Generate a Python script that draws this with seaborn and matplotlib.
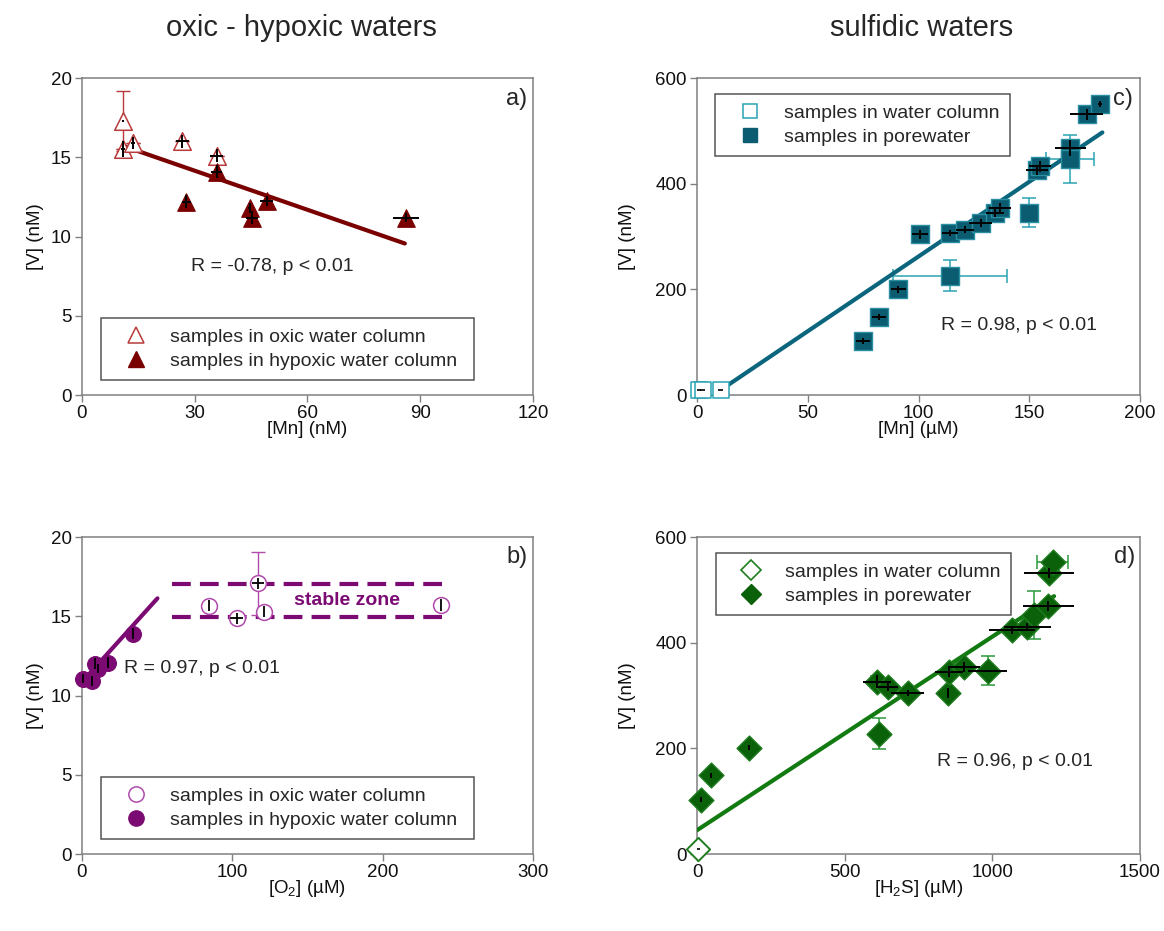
import numpy as np
import pandas as pd
import matplotlib
matplotlib.use("Agg")
import matplotlib.pyplot as plt
from matplotlib.lines import Line2D
import seaborn as sns

# ---------------- data ----------------
# panel a: [V] vs [Mn] (nM), oxic-hypoxic
a_oxic_mn = [10.9, 10.9, 13.6, 26.7, 35.8]
a_oxic_v = [17.3, 15.5, 15.9, 16.0, 15.1]
a_oxic_xerr_k = [0.3, 0.5, 0.6, 1.8, 1.8]
a_oxic_yerr_k = [0.0, 0.5, 0.4, 0.4, 0.4]
a_oxic_yerr_c = [1.9, 0.0, 0.0, 0.0, 0.0]
a_hyp_mn = [27.8, 35.8, 44.6, 45.2, 49.1, 86.2]
a_hyp_v = [12.2, 14.1, 11.8, 11.2, 12.25, 11.2]
a_hyp_xerr_k = [1.2, 1.5, 0.5, 1.6, 1.7, 3.5]
a_hyp_yerr_k = [0.4, 0.4, 0.3, 0.4, 0.3, 0.3]
a_fit_x = [11.4, 85.9]
a_fit_y = [15.68, 9.56]

# panel b: [V] vs [O2] (uM)
b_oxic_o2 = [84.3, 102.8, 117.4, 121.2, 238.9]
b_oxic_v = [15.65, 14.87, 17.08, 15.29, 15.71]
b_oxic_xerr_k = [0.0, 4.0, 4.0, 0.0, 0.0]
b_oxic_yerr_k = [0.35, 0.35, 0.35, 0.35, 0.35]
b_oxic_yerr_c = [0.0, 0.0, 2.0, 0.0, 0.0]
b_hyp_o2 = [0.9, 6.4, 8.6, 10.8, 17.5, 33.7]
b_hyp_v = [11.06, 10.9, 12.0, 11.7, 12.07, 13.9]
b_hyp_yerr_k = [0.3, 0.3, 0.35, 0.3, 0.35, 0.35]
b_fit_x = [0.0, 50.2]
b_fit_y = [10.85, 16.13]
b_stable_x = [60.0, 240.0]
b_stable_low = 14.93
b_stable_high = 17.03

# panel c: [V] vs [Mn] (uM), sulfidic
c_wc_mn = [1.0, 2.5, 10.7]
c_wc_v = [9.0, 10.0, 9.0]
c_pw_mn = [75.1, 82.2, 90.9, 100.7, 114.2, 114.2, 121.0, 128.0, 134.5, 136.8,
           150.0, 153.4, 154.8, 168.4, 168.4, 175.9, 182.0]
c_pw_v = [102, 148, 200, 304, 307, 226, 313, 326, 345, 354,
          345, 426, 433, 467, 447, 531, 551]
c_pw_xerr_k = [3.2, 3.2, 3.5, 3.7, 3.6, 0, 4, 5, 4, 5, 0, 5, 5, 7, 0, 7.3, 1]
c_pw_yerr_k = [5, 6, 6, 8, 6, 0, 6, 8, 8, 10, 0, 10, 10, 15, 0, 10, 5]
c_pw_xerr_c = [0, 0, 0, 0, 0, 25.8, 0, 0, 0, 0, 0, 0, 0, 0, 11, 0, 0]
c_pw_yerr_c = [0, 0, 0, 0, 0, 30, 0, 0, 0, 0, 27, 0, 0, 0, 45, 0, 0]
c_fit_x = [11.2, 183.0]
c_fit_y = [11.0, 497.0]

# panel d: [V] vs [H2S] (uM)
d_wc_h2s = [3.0]
d_wc_v = [10.0]
d_pw_h2s = [15, 49, 176, 615, 609, 646, 713, 849, 854, 905, 984, 1066, 1119,
            1142, 1190, 1192, 1204]
d_pw_v = [103, 149, 201, 228, 326, 317, 305, 305, 345, 354, 347, 424, 430,
          452, 469, 532, 553]
d_pw_xerr_k = [3, 3, 5, 0, 47, 36, 55, 0, 47, 53, 65, 78, 80, 0, 86, 86, 0]
d_pw_yerr_k = [5, 5, 5, 0, 12, 8, 5, 10, 10, 10, 0, 8, 8, 0, 10, 10, 0]
d_pw_xerr_c = [0, 0, 0, 0, 20, 0, 0, 0, 0, 0, 0, 0, 0, 0, 0, 0, 53]
d_pw_yerr_c = [0, 0, 0, 30, 0, 0, 0, 0, 0, 0, 27, 0, 0, 46, 0, 0, 0]
d_fit_x = [0.0, 1209.0]
d_fit_y = [45.0, 488.0]

titles = ["oxic - hypoxic waters", "sulfidic waters"]
r_texts = ["R = -0.78, p < 0.01", "R = 0.97, p < 0.01",
           "R = 0.98, p < 0.01", "R = 0.96, p < 0.01"]

# ---------------- style ----------------
sns.set_theme(style="white")
plt.rcParams["font.family"] = ["Liberation Sans", "DejaVu Sans"]
plt.rcParams["mathtext.fontset"] = "custom"
plt.rcParams["mathtext.rm"] = "Liberation Sans"
plt.rcParams["mathtext.it"] = "Liberation Sans:italic"
plt.rcParams["mathtext.default"] = "regular"

SPINE = "#808080"
FS = 13.5

fig = plt.figure(figsize=(11.64, 9.31), dpi=100)
axA = fig.add_axes([0.0704, 0.5757, 0.3875, 0.3405])
axB = fig.add_axes([0.0704, 0.0827, 0.3875, 0.3405])
axC = fig.add_axes([0.5988, 0.5757, 0.3806, 0.3405])
axD = fig.add_axes([0.5988, 0.0827, 0.3806, 0.3405])

def style_axis(ax, xlim, ylim, xticks, yticks, xlabel, ylabel, ylab_x):
    ax.set_xlim(*xlim)
    ax.set_ylim(*ylim)
    ax.set_xticks(xticks)
    ax.set_yticks(yticks)
    for s in ax.spines.values():
        s.set_color(SPINE)
        s.set_linewidth(1.1)
    ax.tick_params(axis="both", which="both", direction="out", length=5,
                   width=1, color=SPINE, labelsize=FS, labelcolor="#111111",
                   bottom=True, left=True, pad=2.5)
    ax.set_xlabel(xlabel, fontsize=FS, color="#111111")
    ax.set_ylabel(ylabel, fontsize=FS, color="#111111")
    ax.xaxis.set_label_coords(0.5, -0.108)
    ax.xaxis.label.set_va("center")
    ax.yaxis.set_label_coords(ylab_x, 0.5)
    ax.yaxis.label.set_va("center")

def errbars(ax, x, y, xerr, yerr, color, lw, cap, z):
    ax.errorbar(x, y, xerr=xerr, yerr=yerr, fmt="none", ecolor=color,
                elinewidth=lw, capsize=cap, capthick=lw, zorder=z)

def add_legend(ax, handles, labels, bbox):
    leg = ax.legend(handles, labels, loc="upper left", bbox_to_anchor=bbox,
                    mode="expand", borderaxespad=0, fontsize=14,
                    frameon=True, fancybox=False, edgecolor="#555555",
                    framealpha=1, borderpad=0.55, handlelength=2.5,
                    handletextpad=0.5, labelspacing=0.3)
    leg.get_frame().set_linewidth(1.1)

# ---------------- panel a ----------------
RED = "#7a0000"
RED_L = "#b83a3a"
style_axis(axA, (0, 120), (0, 20), [0, 30, 60, 90, 120], [0, 5, 10, 15, 20],
           "[Mn] (nM)", "[V] (nM)", -0.102)
errbars(axA, a_oxic_mn, a_oxic_v, None, a_oxic_yerr_c, RED_L, 1.0, 5, 2)
sns.lineplot(x=a_fit_x, y=a_fit_y, ax=axA, color=RED, linewidth=3,
             estimator=None, zorder=3)
sns.scatterplot(x=a_oxic_mn, y=a_oxic_v, ax=axA, marker="^", s=160,
                facecolor="white", edgecolor=RED_L, linewidth=1.1, zorder=4,
                clip_on=False)
sns.scatterplot(x=a_hyp_mn, y=a_hyp_v, ax=axA, marker="^", s=160,
                color=RED, edgecolor=RED, linewidth=0.8, zorder=4,
                clip_on=False)
errbars(axA, a_oxic_mn, a_oxic_v, a_oxic_xerr_k, a_oxic_yerr_k, "black", 1.4, 0, 5)
errbars(axA, a_hyp_mn, a_hyp_v, a_hyp_xerr_k, a_hyp_yerr_k, "black", 1.4, 0, 5)
axA.text(29.1, 8.08, r_texts[0], fontsize=14, ha="left", va="center")
axA.text(0.988, 0.934, "a)", transform=axA.transAxes, fontsize=17,
         ha="right", va="center")
add_legend(axA,
           [Line2D([], [], marker="^", ls="none", ms=12, mfc="white",
                   mec=RED_L, mew=1.1),
            Line2D([], [], marker="^", ls="none", ms=12, mfc=RED, mec=RED)],
           ["samples in oxic water column", "samples in hypoxic water column"],
           (0.042, 0.0, 0.827, 0.243))

# ---------------- panel b ----------------
PUR = "#7b0a73"
PUR_L = "#b04aac"
style_axis(axB, (0, 300), (0, 20), [0, 100, 200, 300], [0, 5, 10, 15, 20],
           r"[O$_2$] (µM)", "[V] (nM)", -0.102)
for lvl in (b_stable_low, b_stable_high):
    axB.plot(b_stable_x, [lvl, lvl], color=PUR, linestyle=(0, (4.5, 2.2)),
             linewidth=3, zorder=2)
errbars(axB, b_oxic_o2, b_oxic_v, None, b_oxic_yerr_c, PUR_L, 1.0, 5, 2)
sns.lineplot(x=b_fit_x, y=b_fit_y, ax=axB, color=PUR, linewidth=3,
             estimator=None, zorder=3)
sns.scatterplot(x=b_oxic_o2, y=b_oxic_v, ax=axB, marker="o", s=130,
                facecolor="white", edgecolor=PUR_L, linewidth=1.1, zorder=4,
                clip_on=False)
sns.scatterplot(x=b_hyp_o2, y=b_hyp_v, ax=axB, marker="o", s=130,
                color=PUR, edgecolor=PUR, linewidth=0.8, zorder=4,
                clip_on=False)
errbars(axB, b_oxic_o2, b_oxic_v, b_oxic_xerr_k, b_oxic_yerr_k, "black", 1.3, 0, 5)
errbars(axB, b_hyp_o2, b_hyp_v, None, b_hyp_yerr_k, "black", 1.3, 0, 5)
axB.text(176, 16.0, "stable zone", fontsize=14, fontweight="bold",
         color=PUR, ha="center", va="center")
axB.text(28.1, 11.7, r_texts[1], fontsize=14, ha="left", va="center")
axB.text(0.988, 0.937, "b)", transform=axB.transAxes, fontsize=17,
         ha="right", va="center")
add_legend(axB,
           [Line2D([], [], marker="o", ls="none", ms=11, mfc="white",
                   mec=PUR_L, mew=1.1),
            Line2D([], [], marker="o", ls="none", ms=11, mfc=PUR, mec=PUR)],
           ["samples in oxic water column", "samples in hypoxic water column"],
           (0.042, 0.0, 0.827, 0.243))

# ---------------- panel c ----------------
TEAL = "#0b5c70"
TEAL_E = "#2a8fa2"
TEAL_L = "#2aa3b3"
style_axis(axC, (0, 200), (0, 600), [0, 50, 100, 150, 200], [0, 200, 400, 600],
           "[Mn] (µM)", "[V] (nM)", -0.156)
errbars(axC, c_pw_mn, c_pw_v, c_pw_xerr_c, c_pw_yerr_c, TEAL_L, 1.1, 5, 2)
sns.lineplot(x=c_fit_x, y=c_fit_y, ax=axC, color="#0b657c", linewidth=3,
             estimator=None, zorder=3)
sns.scatterplot(x=c_wc_mn, y=c_wc_v, ax=axC, marker="s", s=120,
                facecolor="white", edgecolor=TEAL_L, linewidth=1.1, zorder=4,
                clip_on=False)
sns.scatterplot(x=c_pw_mn, y=c_pw_v, ax=axC, marker="s", s=160,
                color=TEAL, edgecolor=TEAL_E, linewidth=1.0, zorder=4,
                clip_on=False)
errbars(axC, c_wc_mn, c_wc_v, [1, 1, 1], None, "black", 1.2, 0, 5)
errbars(axC, c_pw_mn, c_pw_v, c_pw_xerr_k, c_pw_yerr_k, "black", 1.4, 0, 5)
axC.text(110, 132, r_texts[2], fontsize=14, ha="left", va="center")
axC.text(0.984, 0.934, "c)", transform=axC.transAxes, fontsize=17,
         ha="right", va="center")
add_legend(axC,
           [Line2D([], [], marker="s", ls="none", ms=10, mfc="white",
                   mec=TEAL_L, mew=1.1),
            Line2D([], [], marker="s", ls="none", ms=10, mfc=TEAL, mec=TEAL)],
           ["samples in water column", "samples in porewater"],
           (0.041, 0.0, 0.666, 0.95))

# ---------------- panel d ----------------
GRN = "#0a610a"
GRN_E = "#1f7d1f"
GRN_L = "#2a9a3a"
style_axis(axD, (0, 1500), (0, 600), [0, 500, 1000, 1500], [0, 200, 400, 600],
           r"[H$_2$S] (µM)", "[V] (nM)", -0.156)
errbars(axD, d_pw_h2s, d_pw_v, d_pw_xerr_c, d_pw_yerr_c, GRN_L, 1.1, 5, 2)
sns.lineplot(x=d_fit_x, y=d_fit_y, ax=axD, color="#117a11", linewidth=3,
             estimator=None, zorder=3)
sns.scatterplot(x=d_wc_h2s, y=d_wc_v, ax=axD, marker="D", s=140,
                facecolor="white", edgecolor=GRN_E, linewidth=1.4, zorder=4,
                clip_on=False)
sns.scatterplot(x=d_pw_h2s, y=d_pw_v, ax=axD, marker="D", s=160,
                color=GRN, edgecolor=GRN_E, linewidth=1.0, zorder=4,
                clip_on=False)
errbars(axD, d_wc_h2s, d_wc_v, [8], None, "black", 1.2, 0, 5)
errbars(axD, d_pw_h2s, d_pw_v, d_pw_xerr_k, d_pw_yerr_k, "black", 1.4, 0, 5)
axD.text(811, 175, r_texts[3], fontsize=14, ha="left", va="center")
axD.text(0.989, 0.938, "d)", transform=axD.transAxes, fontsize=17,
         ha="right", va="center")
add_legend(axD,
           [Line2D([], [], marker="D", ls="none", ms=10, mfc="white",
                   mec=GRN_E, mew=1.2),
            Line2D([], [], marker="D", ls="none", ms=10, mfc=GRN, mec=GRN)],
           ["samples in water column", "samples in porewater"],
           (0.043, 0.0, 0.666, 0.95))

# ---------------- titles ----------------
fig.text(0.259, 0.970, titles[0], fontsize=21, ha="center", va="center")
fig.text(0.792, 0.970, titles[1], fontsize=21, ha="center", va="center")

fig.savefig("out.png", dpi=100)
